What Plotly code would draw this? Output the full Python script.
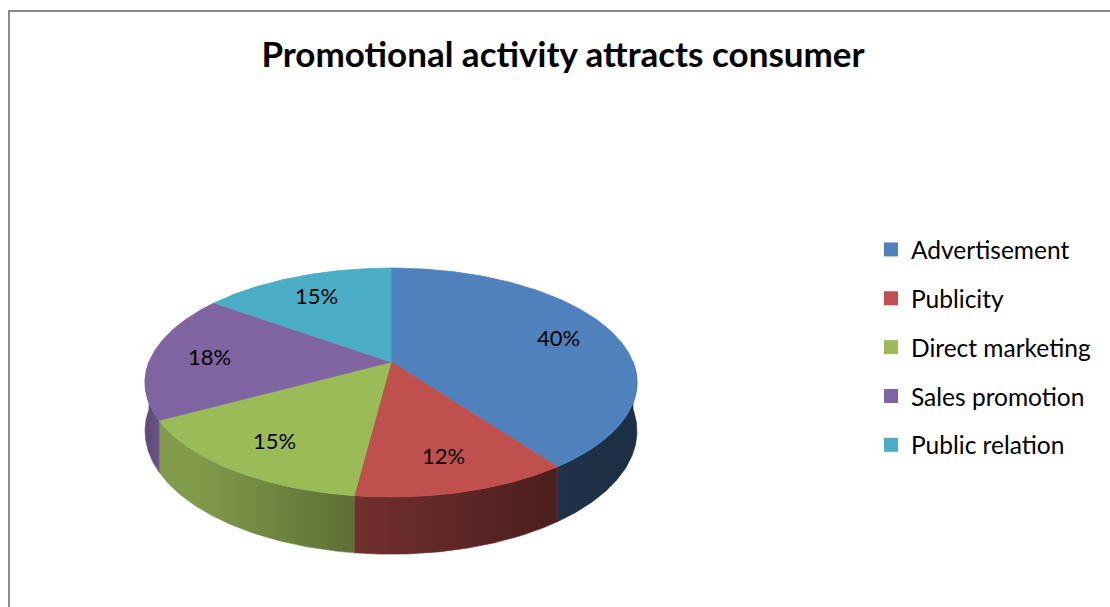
import numpy as np
import plotly.graph_objects as go

# ---------------- data ----------------
categories = ["Advertisement", "Publicity", "Direct marketing", "Sales promotion", "Public relation"]
values = [40, 12, 15, 18, 15]
colors = ["#4F81BD", "#C0504D", "#9BBB59", "#8064A2", "#4BACC6"]
title_text = "Promotional activity attracts consumer"

# ---------------- geometry (pixel-space axes) ----------------
W, HGT = 1110, 607
CX, CY = 391.0, 362.0      # projected pie centre
RX, RY = 242.0, 110.8      # radii
A = 0.179                  # perspective strength
DEPTH = 47.0               # pie thickness
LABEL_R = 0.76
FONT = "Lato, 'Open Sans', sans-serif"


def proj(theta_deg, r=1.0):
    t = np.radians(theta_deg)
    u = r * np.sin(t)
    v = -r * np.cos(t)
    s = 1.0 / (1.0 - A * v)
    return CX + RX * u * s, CY + RY * v * s, s


def hex_rgb(h):
    h = h.lstrip("#")
    return tuple(int(h[i:i + 2], 16) for i in (0, 2, 4))


def shade(h, f):
    r, g, b = hex_rgb(h)
    return "rgb(%d,%d,%d)" % (round(r * f), round(g * f), round(b * f))


def light(x):
    return float(np.interp(x, [145, 165, 350, 550, 640], [0.72, 0.88, 0.60, 0.39, 0.36]))


total = float(sum(values))
cum = np.concatenate([[0.0], np.cumsum(values)]) / total * 360.0

fig = go.Figure()

# side walls (front half only)
for i, c in enumerate(colors):
    a = max(cum[i], 90.0)
    b = min(cum[i + 1], 270.0)
    if a >= b:
        continue
    th = np.linspace(a, b, 80)
    xt, yt, s = proj(th)
    yb = yt + DEPTH * s
    xs = np.concatenate([xt, xt[::-1], xt[:1]])
    ys = np.concatenate([yt, yb[::-1], yt[:1]])
    x0, x1 = float(xt.min()), float(xt.max())
    stops = np.linspace(0, 1, 6)
    cs = [[float(p), shade(c, light(x0 + p * (x1 - x0)))] for p in stops]
    fig.add_trace(go.Scatter(
        x=xs, y=ys, mode="lines", fill="toself",
        line=dict(width=0.6, color=shade(c, light((x0 + x1) / 2))),
        fillgradient=dict(type="horizontal", colorscale=cs, start=x0, stop=x1),
        hoverinfo="skip", showlegend=False))

# top faces
for i, c in enumerate(colors):
    th = np.linspace(cum[i], cum[i + 1], 120)
    xt, yt, _ = proj(th)
    xs = np.concatenate([[CX], xt, [CX]])
    ys = np.concatenate([[CY], yt, [CY]])
    fig.add_trace(go.Scatter(
        x=xs, y=ys, mode="lines", fill="toself", fillcolor=c,
        line=dict(width=0.8, color=c), hoverinfo="skip", showlegend=False))

# percentage labels
for i, v in enumerate(values):
    mid = (cum[i] + cum[i + 1]) / 2
    lx, ly, _ = proj(mid, LABEL_R)
    fig.add_annotation(x=float(lx), y=float(ly), text="%d%%" % round(v / total * 100),
                       showarrow=False, font=dict(family=FONT, size=22, color="black"))

# legend entries
for i, (name, c) in enumerate(zip(categories, colors)):
    fig.add_trace(go.Scatter(
        x=[None], y=[None], mode="markers", name=name, legendgroup=name,
        marker=dict(symbol="square", size=14, color=c)))

fig.update_layout(
    width=W, height=HGT,
    margin=dict(l=0, r=0, t=0, b=0),
    paper_bgcolor="white", plot_bgcolor="white",
    xaxis=dict(range=[0, W], visible=False, fixedrange=True),
    yaxis=dict(range=[HGT, 0], visible=False, fixedrange=True),
    title=dict(text="<b>%s</b>" % title_text, x=563 / W, xanchor="center",
               y=1 - 55 / HGT, yanchor="middle", yref="container",
               font=dict(family=FONT, size=35, color="black")),
    legend=dict(x=871 / W, xanchor="left", y=1 - 227 / HGT, yanchor="top",
                font=dict(family=FONT, size=24.5, color="black"),
                tracegroupgap=14, itemsizing="trace", bgcolor="rgba(0,0,0,0)"),
    shapes=[dict(type="rect", xref="paper", yref="paper",
                 x0=9 / W, x1=1.02, y0=-0.02, y1=1 - 11 / HGT,
                 line=dict(color="#8a8a8a", width=2), fillcolor="rgba(0,0,0,0)",
                 layer="below")],
)

fig.write_html("out.html")
